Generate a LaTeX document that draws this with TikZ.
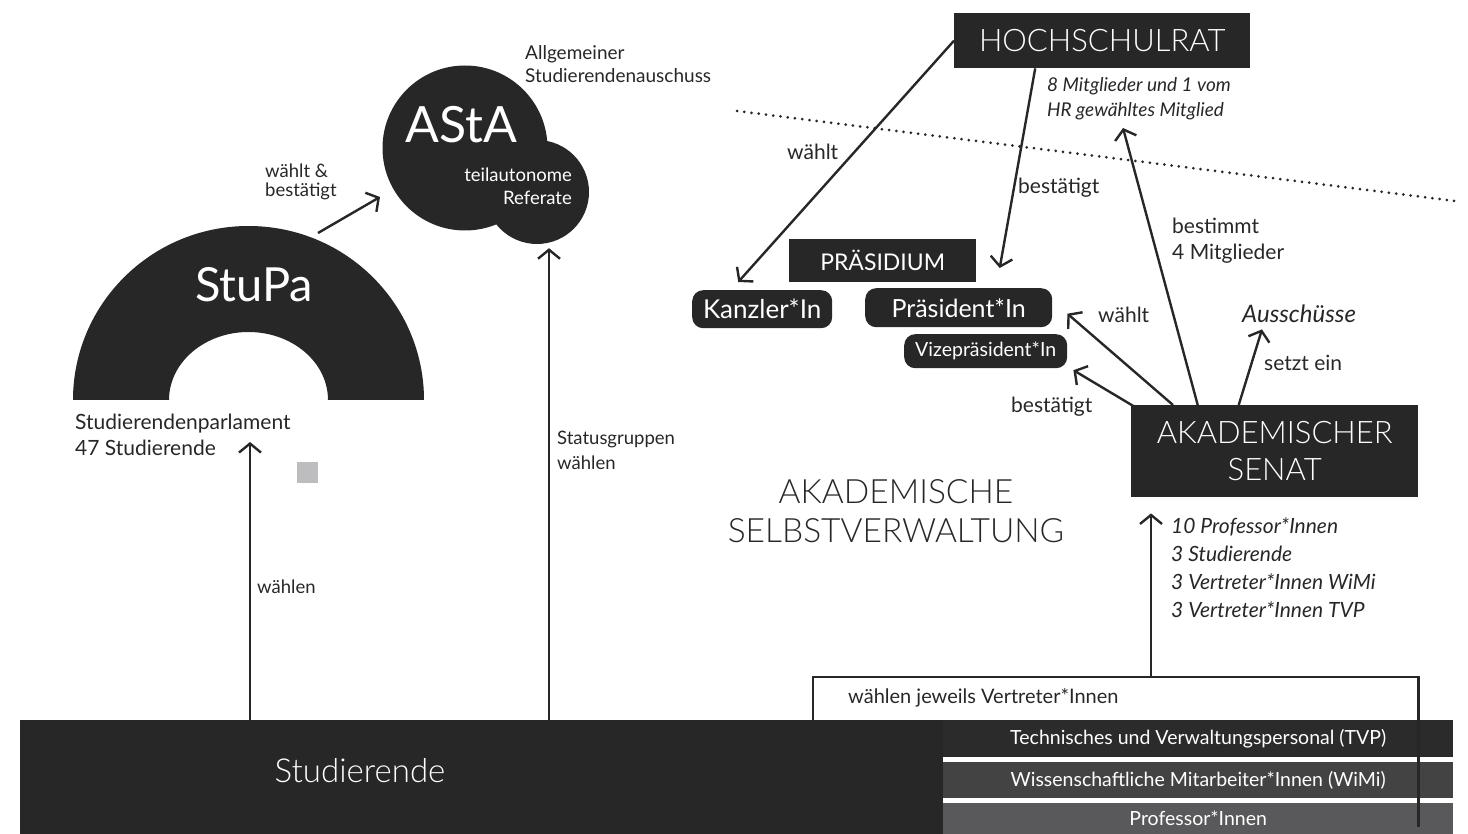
\documentclass[tikz,border=0pt]{standalone}
\usepackage{fontspec}
\setmainfont{Lato}
\newfontfamily\duenn{Lato}[UprightFont=* Light]
\usetikzlibrary{arrows.meta,calc}
\definecolor{dunkel}{HTML}{272727}
\definecolor{grauA}{HTML}{2B2B2B}
\definecolor{grauB}{HTML}{434343}
\definecolor{grauC}{HTML}{59595B}
\definecolor{hell}{HTML}{BDBDBF}
\tikzset{
    pfeil/.style={draw=dunkel, line width=2.4pt, -{Straight Barb[length=9pt,width=22pt]}},
    kasten/.style={fill=dunkel, text=white, inner sep=0, anchor=north west},
    rund/.style={fill=dunkel, text=white, inner sep=0, anchor=north west, rounded corners=11pt},
    txt/.style={text=dunkel, inner sep=0, anchor=base west, align=left, font=\fontsize{21}{26}\selectfont},
    klein/.style={font=\fontsize{18.5}{23}\selectfont}
}

\begin{document}
\begin{tikzpicture}[x=1pt,y=-1pt]
            \useasboundingbox (0,0) rectangle (1468,834);
            % Studierende und Statusgruppen
            \node[kasten, minimum width=923, minimum height=114] (stud) at (20,720) {};
            \node[text=white, inner sep=0, anchor=base, font=\duenn\fontsize{33}{33}\selectfont] (studtxt) at (360,782) {Studierende};
            \node[kasten, fill=grauA, minimum width=510, minimum height=37, font=\fontsize{19.5}{19.5}\selectfont] (tvp) at (943,720) {Technisches und Verwaltungspersonal (TVP)};
            \node[kasten, fill=grauB, minimum width=510, minimum height=36, font=\fontsize{19.5}{19.5}\selectfont] (wimi) at (943,762) {Wissenschaftliche Mitarbeiter*Innen (WiMi)};
            \node[kasten, fill=grauC, minimum width=510, minimum height=31, font=\fontsize{19.5}{19.5}\selectfont] (prof) at (943,803) {Professor*Innen};
            \node[inner sep=0, anchor=north west, minimum width=605, minimum height=43] (wahl) at (813,677) {};
            \draw[dunkel, line width=2.4pt] (wahl.south west) -- (wahl.north west) -- (wahl.north east) -- ($(wahl.north east)+(0,150)$);
            \node[txt, font=\fontsize{20}{20}\selectfont] (wahltxt) at (848,703) {wählen jeweils Vertreter*Innen};

            % StuPa
            \fill[dunkel] (73,400) arc[start angle=180, end angle=360, x radius=175.5, y radius=174] -- (328,400)
                arc[start angle=360, end angle=180, x radius=79.5, y radius=68] -- cycle;
            \node[text=white, inner sep=0, anchor=base, font=\fontsize{47}{47}\selectfont] (stupa) at (254,302) {StuPa};
            \node[txt] (parl) at (75,455) {Studierendenparlament\\47 Studierende};
            \node[fill=hell, minimum size=21, inner sep=0] (quadrat) at (307,472) {};

            % AStA
            \node[circle, fill=dunkel, minimum size=165, inner sep=0] (asta) at (465,148) {};
            \node[circle, fill=dunkel, minimum size=104, inner sep=0] (referate) at (537,192) {};
            \node[text=white, inner sep=0, anchor=base, font=\fontsize{50}{50}\selectfont] (astatxt) at (461,143) {AStA};
            \node[text=white, inner sep=0, anchor=base east, align=right, klein] (reftxt) at (572,205) {teilautonome\\Referate};
            \node[txt, font=\fontsize{19}{23}\selectfont] (astaname) at (525,83) {Allgemeiner\\Studierendenauschuss};

            \coordinate (bogen) at (318,233);
            \coordinate (astaein) at (380,197);
            \coordinate (parlein) at (250,442);
            \draw[pfeil] (bogen) -- (astaein);
            \node[txt, klein, font=\fontsize{18.5}{19}\selectfont] (wbtxt) at (265,197) {wählt \&\\bestätigt};
            \draw[pfeil] ($(stud.north west)+(230,0)$) -- (parlein);
            \node[txt, klein] (wtxt) at (257,593) {wählen};
            \draw[pfeil] ($(stud.north west)+(529,0)$) -- ($(referate.south)+(12,4)$);
            \node[txt, klein, font=\fontsize{18.5}{25}\selectfont] (sgtxt) at (557,469) {Statusgruppen\\wählen};

            % Hochschulrat und Praesidium
            \draw[dunkel, line width=3pt, line cap=round, dash pattern=on 0pt off 7.3pt] (737,111) -- (1455,201);
            \node[kasten, minimum width=296, minimum height=55, font=\duenn\fontsize{31}{31}\selectfont] (hr) at (954,13) {HOCHSCHULRAT};
            \node[txt, font=\itshape\fontsize{19}{25}\selectfont] (hrinfo) at (1047,117) {8 Mitglieder und 1 vom\\HR gewähltes Mitglied};
            \node[kasten, minimum width=187, minimum height=43, font=\fontsize{23}{23}\selectfont] (praesidium) at (789,239) {PRÄSIDIUM};
            \node[rund, minimum width=140, minimum height=38, font=\fontsize{26}{26}\selectfont] (kanzler) at (692,290) {Kanzler*In};
            \node[rund, minimum width=187, minimum height=39, font=\fontsize{25}{25}\selectfont] (praes) at (865,288) {Präsident*In};
            \node[rund, minimum width=163, minimum height=34, font=\fontsize{19.5}{19.5}\selectfont] (vize) at (904,334) {Vizepräsident*In};
            \draw[pfeil] (hr.west) -- ($(kanzler.north)+(-24,-8)$);
            \node[txt] (w1) at (787,160) {wählt};
            \draw[pfeil] ($(hr.south)+(-67,0)$) -- ($(praes.north)+(41,-20)$);
            \node[txt] (b1) at (1018,194) {bestätigt};

            % Akademischer Senat
            \node[kasten, minimum width=287, minimum height=92, align=center, font=\duenn\fontsize{31}{37}\selectfont] (senat) at (1131,405) {AKADEMISCHER\\SENAT};
            \node[txt, font=\itshape\fontsize{21}{28}\selectfont] (mitglieder) at (1171,617) {10 Professor*Innen\\3 Studierende\\3 Vertreter*Innen WiMi\\3 Vertreter*Innen TVP};
            \node[txt, align=center, anchor=base, font=\duenn\fontsize{33.5}{39}\selectfont] (selbst) at (896,542) {AKADEMISCHE\\SELBSTVERWALTUNG};
            \node[txt, font=\itshape\fontsize{24}{24}\selectfont] (aus) at (1242,323) {Ausschüsse};
            \coordinate (hrein) at (1123,128);
            \draw[pfeil] ($(wahl.north west)+(338,0)$) -- ($(senat.south west)+(20,16)$);
            \draw[pfeil] ($(senat.north)+(-77,0)$) -- (hrein);
            \node[txt] (bm) at (1172,260) {bestimmt\\4 Mitglieder};
            \draw[pfeil] ($(senat.north west)+(42,0)$) -- ($(praes.east)+(15,6)$);
            \node[txt] (w2) at (1098,323) {wählt};
            \draw[pfeil] ($(senat.north west)+(4,2)$) -- ($(vize.east)+(6,19)$);
            \node[txt] (b2) at (1011,413) {bestätigt};
            \draw[pfeil] ($(senat.north)+(-36,0)$) -- ($(aus.south west)+(20,6)$);
            \node[txt] (se) at (1264,371) {setzt ein};
        \end{tikzpicture}
\end{document}
